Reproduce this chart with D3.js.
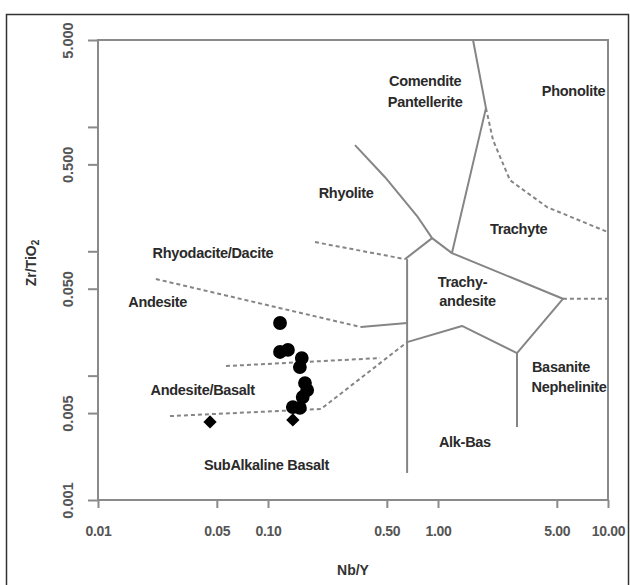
<!DOCTYPE html>
<html><head><meta charset="utf-8">
<script src="https://cdn.jsdelivr.net/npm/d3@7"></script>
<style>
html,body{margin:0;padding:0;background:#fff;}
svg{display:block;font-family:"Liberation Sans",Arial,sans-serif;}
</style></head>
<body><svg id="c" width="630" height="585"></svg>
<script>
// ---- axis ticks ----
const xTicks = [0.01, 0.05, 0.1, 0.5, 1, 5, 10];
const xTickLabels = ["0.01", "0.05", "0.10", "0.50", "1.00", "5.00", "10.00"];
const yTicks = [0.001, 0.005, 0.01, 0.05, 0.1, 0.5, 1, 5];
const yTickLabels = ["0.001", "0.005", "", "0.050", "", "0.500", "", "5.000"];

// ---- samples ----
const sampleNbY   = [0.1177, 0.1177, 0.131, 0.158, 0.154, 0.165, 0.170, 0.160, 0.140, 0.154, 0.140, 0.0456];
const sampleZrTi  = [0.0265, 0.0155, 0.0161, 0.01385, 0.01173, 0.00872, 0.00766, 0.00673, 0.00559, 0.0055, 0.0044, 0.00424];
const sampleShape = ["circle","circle","circle","circle","circle","circle","circle","circle","circle","circle","diamond","diamond"];

// ---- field boundaries [Nb/Y, Zr/TiO2] ----
const comenditePhonolite = [[1.607, 5], [1.915, 1.416], [1.208, 0.0967]];
const rhyoliteBoundary   = [[0.325, 0.714], [0.488, 0.394], [0.762, 0.188], [0.923, 0.1276], [1.208, 0.0967], [5.43, 0.0415]];
const trachytePhonolite  = [[1.915, 1.416], [2.107, 0.783], [2.65, 0.373], [4.38, 0.2265], [10, 0.1425]];
const rhyoliteDacite     = [[0.189, 0.1186], [0.640, 0.0865]];
const rhyoliteTrachyand  = [[0.640, 0.0865], [0.923, 0.1276]];
const verticalLeft       = [[0.658, 0.0865], [0.658, 0.00165]];
const daciteAndesite     = [[0.0219, 0.0598], [0.352, 0.0246]];
const andesiteTrachyand  = [[0.352, 0.0246], [0.658, 0.0265]];
const andesiteBasalt     = [[0.0566, 0.01194], [0.456, 0.01385]];
const subalkBoundary     = [[0.0265, 0.00473], [0.205, 0.00539], [0.658, 0.0186]];
const trachyandLower     = [[0.658, 0.0186], [1.384, 0.0251], [2.915, 0.0152]];
const trachyandRight     = [[2.915, 0.0152], [5.43, 0.0415]];
const basaniteBoundary   = [[2.915, 0.0152], [2.915, 0.00386]];
const phonoliteLower     = [[5.43, 0.0415], [10, 0.0415]];

const solidLines  = [comenditePhonolite, rhyoliteBoundary, rhyoliteTrachyand, verticalLeft, andesiteTrachyand, trachyandLower, trachyandRight, basaniteBoundary];
const dashedLines = [trachytePhonolite, rhyoliteDacite, daciteAndesite, andesiteBasalt, subalkBoundary, phonoliteLower];

// ---- field names [text, Nb/Y, Zr/TiO2] ----
const fieldNames  = ["Comendite", "Pantellerite", "Phonolite", "Rhyolite", "Trachyte", "Rhyodacite/Dacite", "Andesite", "Trachy-", "andesite", "Basanite", "Nephelinite", "Andesite/Basalt", "Alk-Bas", "SubAlkaline Basalt"];
const fieldX      = [0.84, 0.84, 6.27, 0.288, 2.98, 0.0474, 0.02243, 1.393, 1.492, 5.29, 5.90, 0.0413, 1.44, 0.098];
const fieldY      = [2.33, 1.60, 1.94, 0.294, 0.1507, 0.0967, 0.0391, 0.0565, 0.0398, 0.0117, 0.0081, 0.00772, 0.00294, 0.00192];

// ---- layout ----
const svg = d3.select("#c");
const L = 98, R = 608, T = 40, B = 500;
const x = d3.scaleLog().domain([0.01, 10]).range([L, R]);
const y = d3.scaleLog().domain([0.001, 5]).range([B, T]);

// outer frame
svg.append("rect").attr("x", 6.5).attr("y", 14.5).attr("width", 622).attr("height", 600)
  .attr("fill", "none").attr("stroke", "#333").attr("stroke-width", 1.5);

const axisCol = "#8a8a8a";
// plot box
svg.append("rect").attr("x", L).attr("y", T).attr("width", R - L).attr("height", B - T)
  .attr("fill", "none").attr("stroke", axisCol).attr("stroke-width", 2);

// x axis
const xAxis = d3.axisBottom(x).tickValues(xTicks).tickSize(8)
  .tickFormat((d, i) => xTickLabels[i]);
const gx = svg.append("g").attr("transform", `translate(0,${B})`).call(xAxis);
gx.select(".domain").remove();
gx.selectAll(".tick line").attr("stroke", axisCol).attr("stroke-width", 2);
gx.selectAll(".tick text").attr("fill", "#555").attr("font-size", 14).attr("font-weight", "bold")
  .attr("font-family", "Liberation Sans, Arial, sans-serif").attr("letter-spacing", -0.3)
  .attr("y", 31).attr("dy", 0).attr("dominant-baseline", "central");

// y axis
const yAxis = d3.axisLeft(y).tickValues(yTicks).tickSize(10)
  .tickFormat((d, i) => yTickLabels[i]);
const gy = svg.append("g").attr("transform", `translate(${L},0)`).call(yAxis);
gy.select(".domain").remove();
gy.selectAll(".tick line").attr("stroke", axisCol).attr("stroke-width", 2);
gy.selectAll(".tick text").attr("fill", "#555").attr("font-size", 14.5).attr("font-weight", "bold")
  .attr("font-family", "Liberation Sans, Arial, sans-serif")
  .attr("x", 0).attr("dy", 0)
  .attr("text-anchor", "middle")
  .attr("transform", "translate(-30,0) rotate(-90)")
  .attr("dominant-baseline", "central");

// field boundaries
const line = d3.line().x(d => x(d[0])).y(d => y(d[1]));
const gl = svg.append("g");
gl.selectAll(".solid").data(solidLines).join("path").attr("class", "solid")
  .attr("d", line).attr("fill", "none").attr("stroke", "#858585").attr("stroke-width", 2)
  .attr("stroke-linejoin", "round");
gl.selectAll(".dash").data(dashedLines).join("path").attr("class", "dash")
  .attr("d", line).attr("fill", "none").attr("stroke", "#858585").attr("stroke-width", 2)
  .attr("stroke-dasharray", "4,3");

// field names
svg.append("g").selectAll("text").data(fieldNames).join("text")
  .attr("x", (d, i) => x(fieldX[i])).attr("y", (d, i) => y(fieldY[i]))
  .attr("text-anchor", "middle").attr("dominant-baseline", "central")
  .attr("font-size", 14.5).attr("font-weight", "bold").attr("fill", "#2a2a2a")
  .attr("letter-spacing", -0.3)
  .text(d => d);

// samples
const sym = {
  circle: d3.symbol().type(d3.symbolCircle).size(150),
  diamond: d3.symbol().type(d3.symbolSquare).size(88)
};
svg.append("g").selectAll("path").data(sampleNbY).join("path")
  .attr("transform", (d, i) => `translate(${x(d)},${y(sampleZrTi[i])})` + (sampleShape[i] === "diamond" ? " rotate(45)" : ""))
  .attr("d", (d, i) => sym[sampleShape[i]]())
  .attr("fill", "#000");

// axis titles
svg.append("text").attr("x", (L + R) / 2).attr("y", 570).attr("text-anchor", "middle")
  .attr("dominant-baseline", "central").attr("font-size", 14).attr("font-weight", "bold")
  .attr("fill", "#333").text("Nb/Y");
const yt = svg.append("text").attr("transform", "translate(31,263) rotate(-90)")
  .attr("text-anchor", "middle").attr("dominant-baseline", "central")
  .attr("font-size", 14).attr("font-weight", "bold").attr("fill", "#333");
yt.append("tspan").text("Zr/TiO");
yt.append("tspan").attr("font-size", 10).attr("dy", 4).text("2");
</script></body></html>
